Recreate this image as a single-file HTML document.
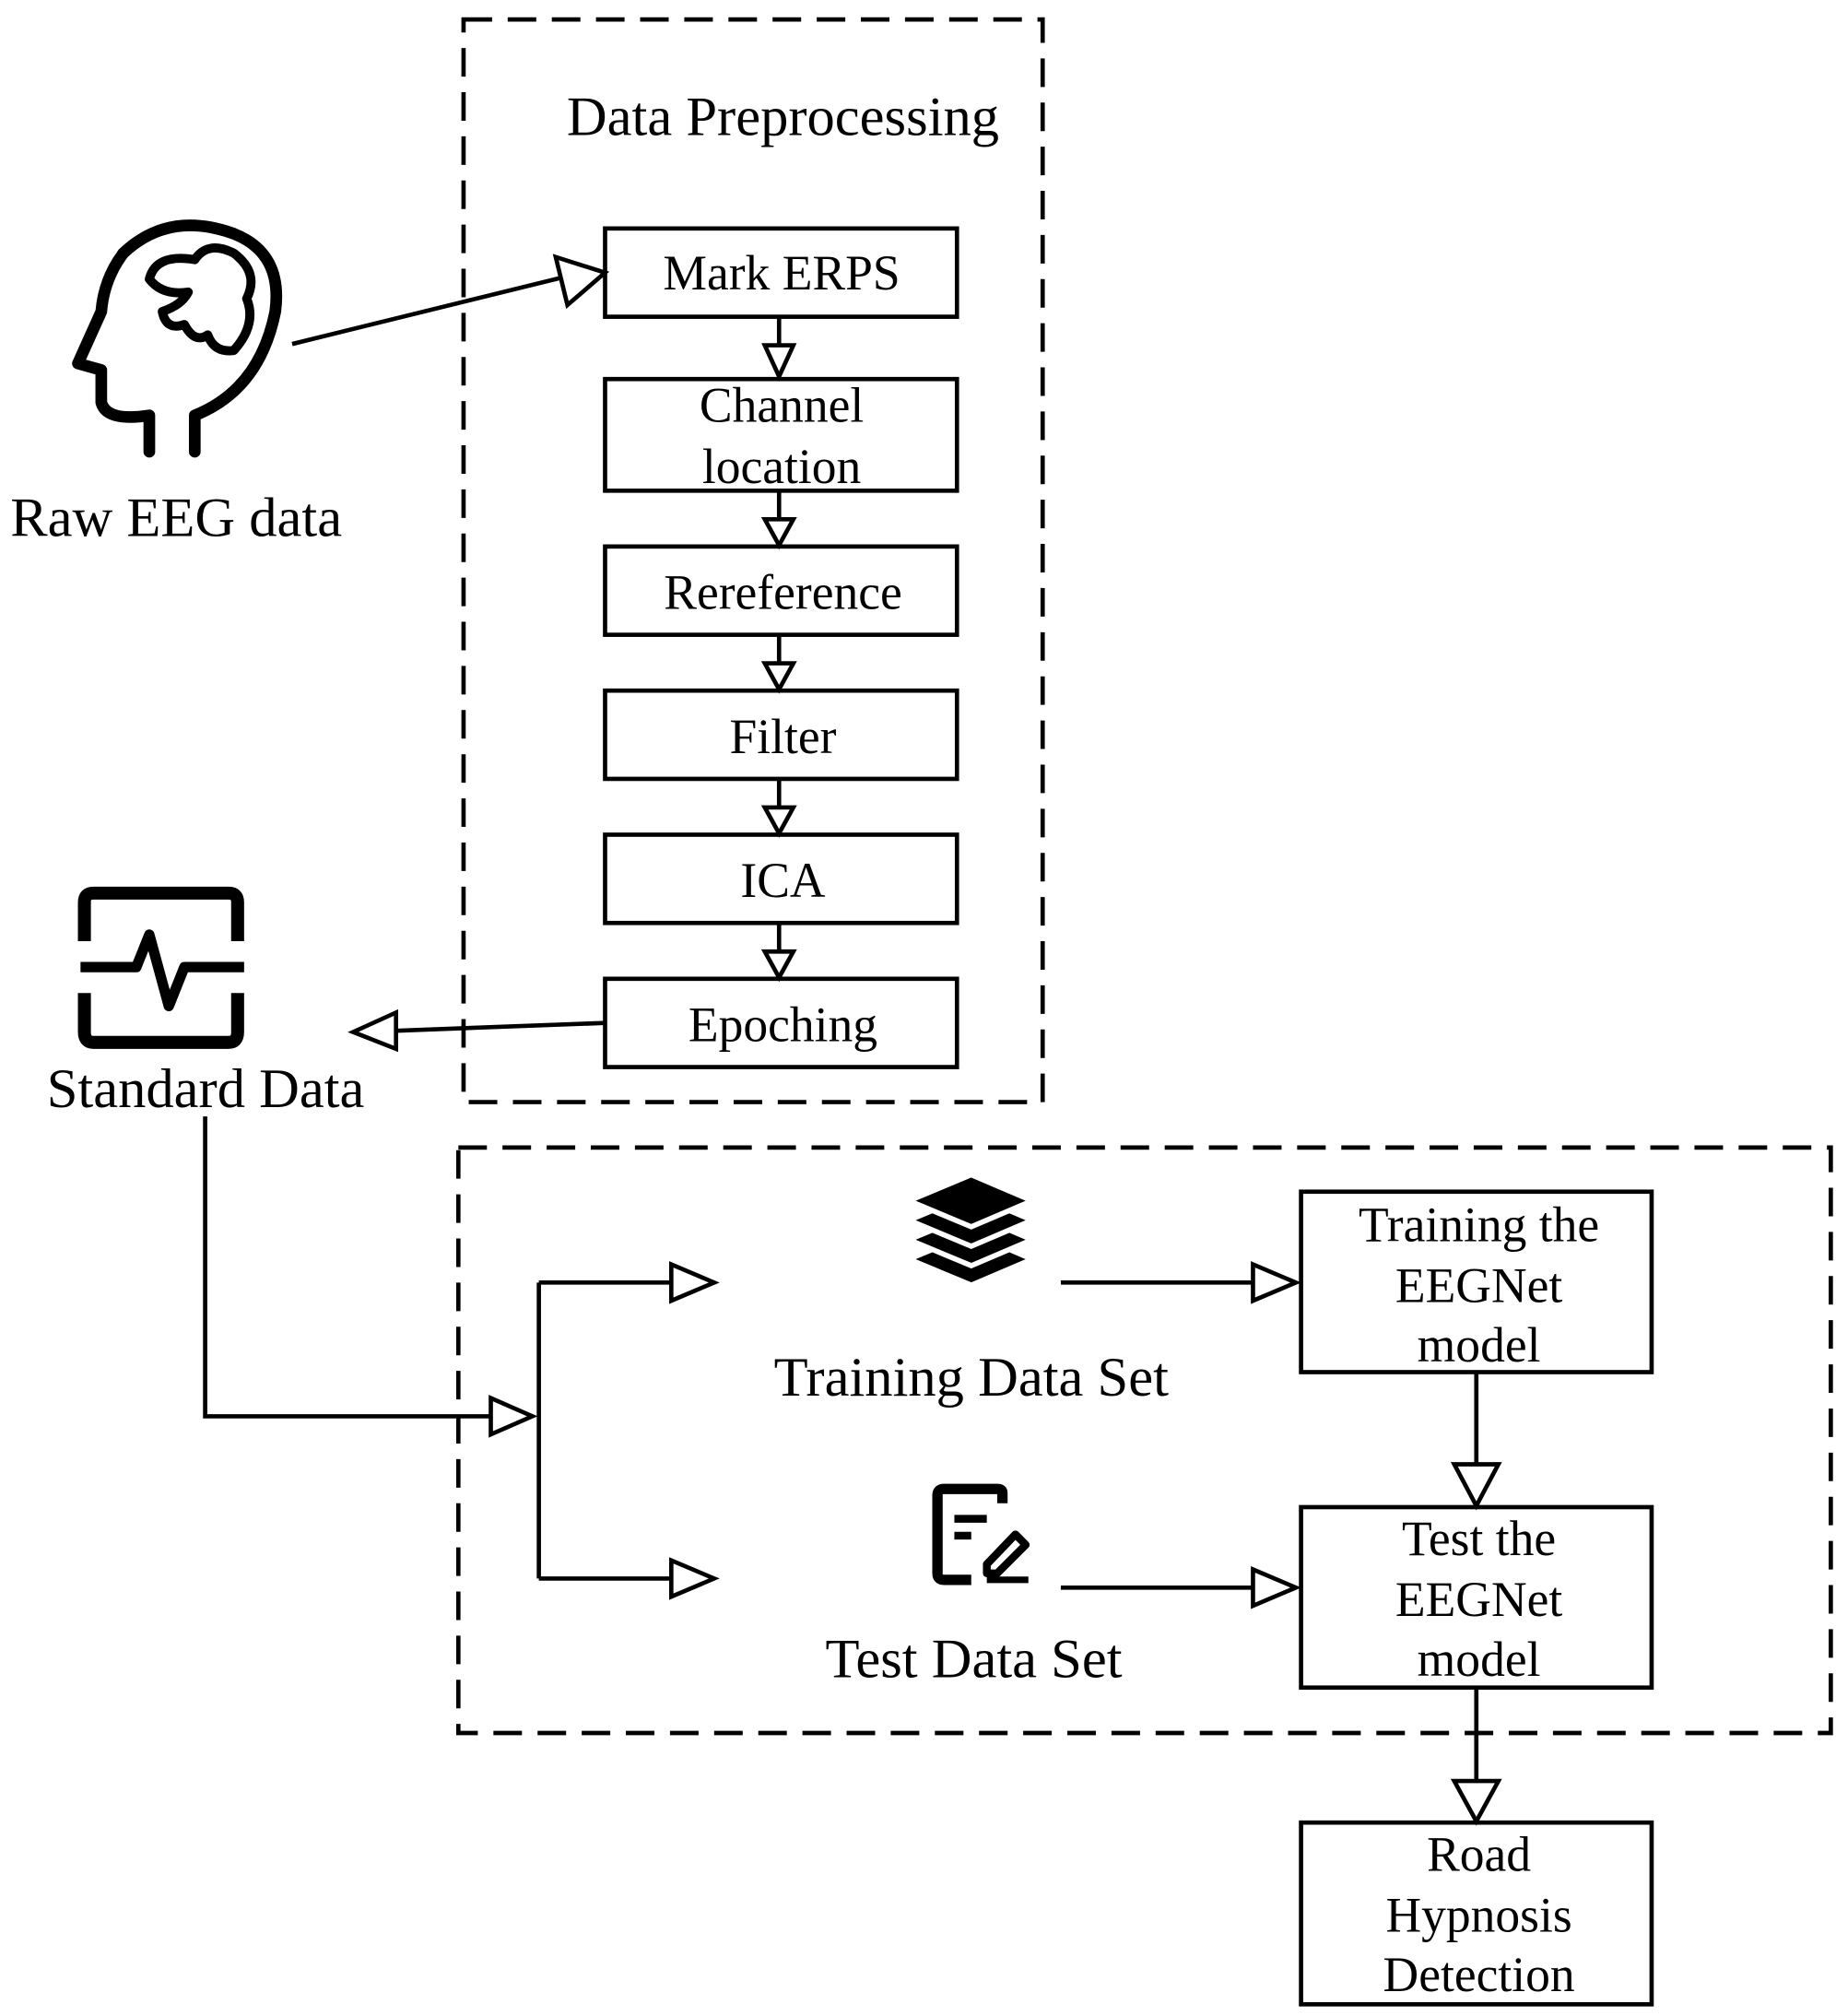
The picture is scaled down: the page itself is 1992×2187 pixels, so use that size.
<!DOCTYPE html>
<html><head><meta charset="utf-8"><style>
html,body{margin:0;padding:0;background:#fff;}
svg{display:block;}
text{font-family:"Liberation Serif",serif;fill:#000;}
</style></head><body>
<svg width="1992" height="2187" viewBox="0 0 1414 1553" preserveAspectRatio="none" xmlns="http://www.w3.org/2000/svg">
<g fill="none" stroke="#000" stroke-width="3.3">
<rect x="357" y="15" width="446" height="834" stroke-dasharray="22,12"/>
<rect x="353" y="884" width="1057" height="451" stroke-dasharray="22,12"/>
<rect x="466" y="176" width="271" height="68"/>
<rect x="466" y="292" width="271" height="86"/>
<rect x="466" y="421" width="271" height="68"/>
<rect x="466" y="532" width="271" height="68"/>
<rect x="466" y="643" width="271" height="68"/>
<rect x="466" y="754" width="271" height="68"/>
<rect x="1002" y="918" width="270" height="139"/>
<rect x="1002" y="1161" width="270" height="139"/>
<rect x="1002" y="1404" width="270" height="140"/>
<path d="M600 244V266M600 378V400M600 489V511M600 600V622M600 711V733"/>
<path d="M589 266L611 266L600 290Z M589 400L611 400L600 420Z M589 511L611 511L600 531Z M589 622L611 622L600 642Z M589 733L611 733L600 753Z"/>
<path d="M225 265L432 214"/>
<path d="M428 198L466 210L437 235Z"/>
<path d="M466 788L305 794"/>
<path d="M305 780L272 795L305 808Z"/>
<path d="M158 860V1091H378"/>
<path d="M378 1077L410 1091L378 1105Z"/>
<path d="M415 988V1216M415 988H517M415 1216H517"/>
<path d="M517 974L550 988L517 1002Z M517 1202L550 1216L517 1230Z"/>
<path d="M817 988H965M817 1223H965"/>
<path d="M965 974L998 988L965 1002Z M965 1209L998 1223L965 1237Z"/>
<path d="M1137 1057V1128M1137 1300V1372"/>
<path d="M1120 1128L1154 1128L1137 1160Z M1120 1372L1154 1372L1137 1403Z"/>
</g>
<g fill="none" stroke="#000" stroke-width="9" stroke-linejoin="round" stroke-linecap="round">
<path d="M150 348V320Q200 300 212 240Q218 195 180 180Q130 162 95 195Q80 215 78 240L60 280L78 285V310Q82 325 115 320V348"/>
<path d="M115 215Q120 195 150 200Q160 185 180 195Q200 210 190 230Q198 250 180 270Q165 272 160 258Q150 265 142 250Q128 255 125 240Q140 235 145 225Q125 228 115 215Z" stroke-width="7"/>
</g>
<g fill="none" stroke="#000" stroke-width="10" stroke-linejoin="round">
<path d="M65 725V695Q65 688 72 688H176Q183 688 183 695V725"/>
<path d="M65 765V795Q65 803 72 803H176Q183 803 183 795V765"/>
<path d="M62 745H105L115 720L130 775L142 745H188" stroke-width="8"/>
</g>
<g fill="#000" stroke="#fff" stroke-width="4">
<path d="M748 990L700 970L748 950L795 970Z"/>
<path d="M748 975L700 955L748 935L795 955Z"/>
<path d="M748 960L700 940L748 920L795 940Z"/>
<path d="M748 945L700 925L748 905L795 925Z"/>
</g>
<g fill="none" stroke="#000" stroke-width="8" stroke-linejoin="round">
<path d="M772 1158V1150Q772 1147 768 1147H727Q722 1147 722 1152V1212Q722 1217 727 1217H748"/>
<path d="M735 1170H760M735 1183H748" stroke-width="6"/>
<path d="M760 1205L782 1182L790 1190L768 1212H760Z" stroke-width="6"/>
<path d="M760 1217H792" stroke-width="5"/>
</g>
<g font-size="43">
<text x="603" y="104" text-anchor="middle">Data Preprocessing</text>
<text x="8" y="413">Raw EEG data</text>
<text x="36" y="853">Standard Data</text>
<text x="748" y="1075" text-anchor="middle">Training Data Set</text>
<text x="750" y="1292" text-anchor="middle">Test Data Set</text>
</g>
<g font-size="38" text-anchor="middle">
<text x="602" y="223">Mark ERPS</text>
<text x="602" y="325">Channel</text>
<text x="602" y="372">location</text>
<text x="603" y="469">Rereference</text>
<text x="603" y="580">Filter</text>
<text x="603" y="691">ICA</text>
<text x="603" y="802">Epoching</text>
<text x="1139" y="956">Training the</text>
<text x="1139" y="1003">EEGNet</text>
<text x="1139" y="1049">model</text>
<text x="1139" y="1198">Test the</text>
<text x="1139" y="1245">EEGNet</text>
<text x="1139" y="1291">model</text>
<text x="1139" y="1441">Road</text>
<text x="1139" y="1488">Hypnosis</text>
<text x="1139" y="1534">Detection</text>
</g>
</svg>
</body></html>
